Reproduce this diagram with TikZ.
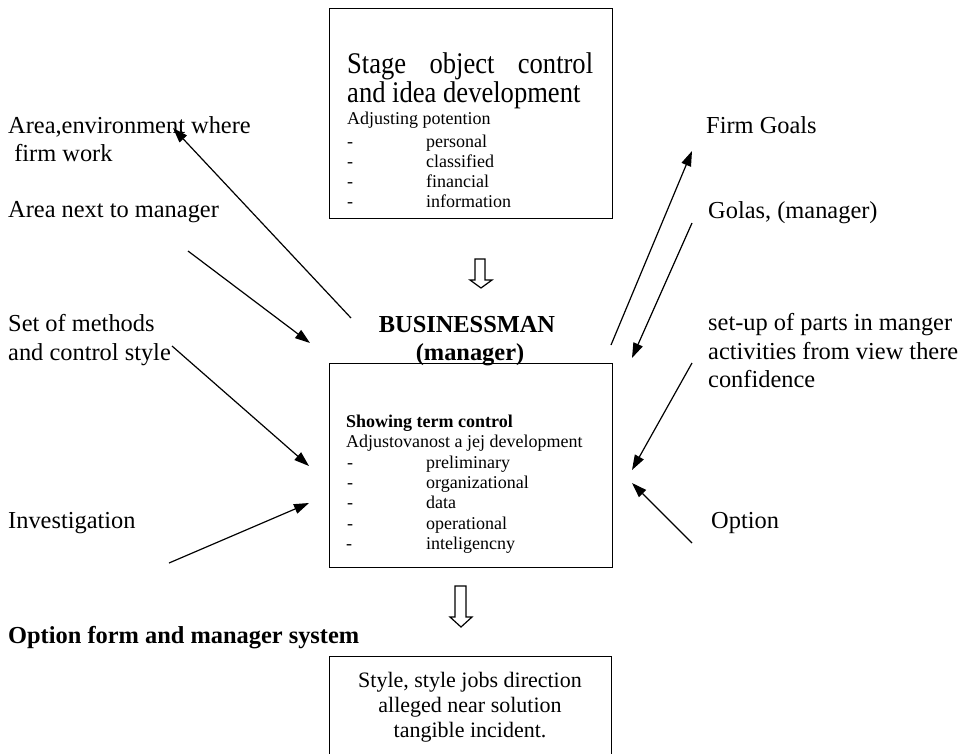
\documentclass[tikz,border=0pt]{standalone}
\usepackage{fontspec}
\usepackage{graphicx}
\setmainfont{Liberation Serif}
\usetikzlibrary{arrows.meta}
\begin{document}
\begin{tikzpicture}[x=1pt,y=-1pt,
  lbl/.style={anchor=base west,inner sep=0pt,font=\fontsize{24.4}{29}\selectfont},
  blbl/.style={lbl,font=\fontsize{24.4}{29}\selectfont\bfseries},
  sml/.style={anchor=base west,inner sep=0pt,font=\fontsize{18}{20}\selectfont},
  bsml/.style={sml,font=\fontsize{18}{20}\selectfont\bfseries},
  head/.style={anchor=base west,inner sep=0pt,font=\fontsize{30}{28}\selectfont},
  cen/.style={anchor=base,inner sep=0pt,font=\fontsize{22}{25}\selectfont},
  bcen/.style={anchor=base,inner sep=0pt,font=\fontsize{24.4}{29}\selectfont\bfseries},
  boxed/.style={draw,line width=1.4pt,inner sep=0pt,anchor=north west},
  arr/.style={line width=1.2pt,-{Triangle[length=15pt,width=10pt]}},
  hollow/.style={draw,line width=1.2pt,fill=white,line join=miter}]
\useasboundingbox (0,0) rectangle (963,753);
\clip (0,0) rectangle (963,753);

% boxes
\node[boxed,minimum width=283pt,minimum height=210pt] (topbox) at (329,8) {};
\node[boxed,minimum width=283pt,minimum height=204pt] (midbox) at (329,363) {};
\node[boxed,minimum width=282pt,minimum height=120pt] (botbox) at (329,656) {};

% top box text
\node[head] (t1) at (347,73) {\scalebox{0.886}[1]{\makebox[277.6pt][s]{Stage object control}}};
\node[head] (t2) at (347,102) {\scalebox{0.886}[1]{and idea development}};
\node[sml] (t3) at (347,124) {Adjusting potention};
\node[sml] (d1) at (347,147) {-};
\node[sml] (t4) at (426,147) {personal};
\node[sml] (d2) at (347,167) {-};
\node[sml] (t5) at (426,167) {classified};
\node[sml] (d3) at (347,187) {-};
\node[sml] (t6) at (426,187) {financial};
\node[sml] (d4) at (347,207) {-};
\node[sml] (t7) at (426,207) {information};

% businessman
\node[bcen] (bm1) at (467,332) {BUSINESSMAN};
\node[bcen] (bm2) at (470,360) {(manager)};

% middle box text
\node[bsml] (m1) at (346,427) {Showing term control};
\node[sml] (m2) at (346,447) {Adjustovanost a jej development};
\node[sml] (e1) at (347,468) {-};
\node[sml] (m3) at (426,468) {preliminary};
\node[sml] (e2) at (347,488) {-};
\node[sml] (m4) at (426,488) {organizational};
\node[sml] (e3) at (347,508) {-};
\node[sml] (m5) at (426,508) {data};
\node[sml] (e4) at (347,529) {-};
\node[sml] (m6) at (426,529) {operational};
\node[sml] (e5) at (346,549) {-};
\node[sml] (m7) at (426,549) {inteligencny};

% bottom box text
\node[cen] (b1) at (470,687) {Style, style jobs direction};
\node[cen] (b2) at (470,712) {alleged near solution};
\node[cen] (b3) at (470,737) {tangible incident.};

% left labels
\node[lbl] (l1) at (8,133) {Area,environment where};
\node[lbl] (l1b) at (8,161) {\ firm work};
\node[lbl] (l2) at (8,217) {Area next to manager};
\node[lbl] (l3) at (8,331) {Set of methods};
\node[lbl] (l3b) at (8,360) {and control style};
\node[lbl] (l4) at (8,528) {Investigation};
\node[blbl] (l5) at (8,643) {Option form and manager system};

% right labels
\node[lbl] (r1) at (706,133) {Firm Goals};
\node[lbl] (r2) at (708,218) {Golas, (manager)};
\node[lbl] (r3) at (708,330) {set-up of parts in manger};
\node[lbl] (r3b) at (708,359) {activities from view there};
\node[lbl] (r3c) at (708,387) {confidence};
\node[lbl] (r4) at (711,528) {Option};

% hollow arrows
\draw[hollow] (475,259) -- (485,259) -- (485,280) -- (492,280) -- (481,288)
  -- (470,280) -- (475,280) -- cycle;
\draw[hollow] (455,586) -- (466,586) -- (466,617) -- (472,617) -- (461,627)
  -- (450,617) -- (455,617) -- cycle;

% connector end points
\coordinate (a1s) at (351,318); \coordinate (a1e) at (173,128);
\coordinate (a2s) at (188,251); \coordinate (a2e) at (310,343);
\coordinate (a3s) at (172,346); \coordinate (a3e) at (309,466);
\coordinate (a4s) at (169,563); \coordinate (a4e) at (309,503);
\coordinate (a5s) at (611,345); \coordinate (a5e) at (692,151);
\coordinate (a6s) at (692,223); \coordinate (a6e) at (632,358);
\coordinate (a7s) at (692,363); \coordinate (a7e) at (632,470);
\coordinate (a8s) at (692,543); \coordinate (a8e) at (632,483);

\draw[arr] (a1s) -- (a1e);
\draw[arr] (a2s) -- (a2e);
\draw[arr] (a3s) -- (a3e);
\draw[arr] (a4s) -- (a4e);
\draw[arr] (a5s) -- (a5e);
\draw[arr] (a6s) -- (a6e);
\draw[arr] (a7s) -- (a7e);
\draw[arr] (a8s) -- (a8e);
\end{tikzpicture}
\end{document}
